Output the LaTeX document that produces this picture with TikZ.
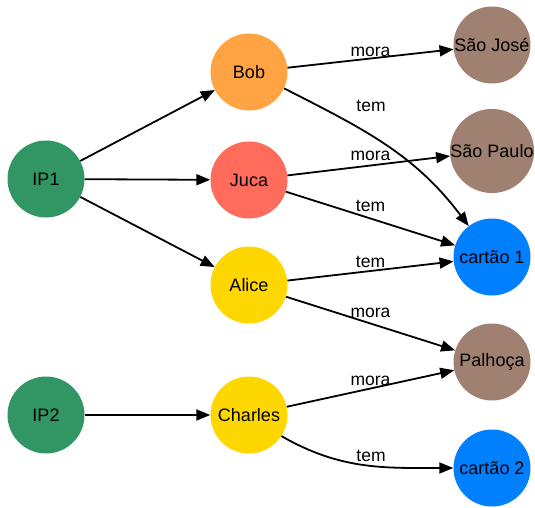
\documentclass[tikz,border=0pt]{standalone}
\usepackage{fontspec}
\setmainfont{Liberation Sans}
\usetikzlibrary{arrows.meta}

\definecolor{ipgreen}{RGB}{50,150,100}
\definecolor{bobcol}{RGB}{255,163,67}
\definecolor{jucacol}{RGB}{255,108,92}
\definecolor{goldcol}{RGB}{255,215,0}
\definecolor{placecol}{RGB}{160,128,112}
\definecolor{cardcol}{RGB}{0,128,255}

\tikzset{
  vertex/.style={circle, minimum size=77pt, inner sep=0pt, draw=none,
                 font=\fontsize{18}{20}\selectfont, text=black},
  rel/.style={line width=1.8pt, -{Triangle[length=14pt,width=11pt]}},
  lbl/.style={anchor=base, inner sep=0pt, font=\fontsize{17.5}{20}\selectfont}
}

\begin{document}
\begin{tikzpicture}[x=1pt,y=1pt]
  \useasboundingbox (0,0) rectangle (535,507);

  % sources
  \node[vertex, fill=ipgreen] (ip1) at (46,328) {IP1};
  \node[vertex, fill=ipgreen] (ip2) at (46,92) {IP2};

  % people
  \node[vertex, fill=bobcol]  (bob)     at (249,435) {Bob};
  \node[vertex, fill=jucacol] (juca)    at (249,327) {Juca};
  \node[vertex, fill=goldcol] (alice)   at (249,222) {Alice};
  \node[vertex, fill=goldcol] (charles) at (249,92)  {Charles};

  % places and cards
  \node[vertex, fill=placecol] (sjose)   at (492,462) {São José};
  \node[vertex, fill=placecol] (spaulo)  at (492,356) {São Paulo};
  \node[vertex, fill=cardcol]  (cartao1) at (492,250) {cartão 1};
  \node[vertex, fill=placecol] (palhoca) at (492,145) {Palhoça};
  \node[vertex, fill=cardcol]  (cartao2) at (492,39)  {cartão 2};

  % connections
  \draw[rel] (ip1) -- (bob);
  \draw[rel] (ip1) -- (juca);
  \draw[rel] (ip1) -- (alice);
  \draw[rel] (ip2) -- (charles);

  \draw[rel] (bob) -- (sjose);
  \draw[rel] (bob.-25) to[out=-27, in=127] (cartao1);
  \draw[rel] (juca) -- (spaulo);
  \draw[rel] (juca) -- (cartao1);
  \draw[rel] (alice) -- (cartao1);
  \draw[rel] (alice) -- (palhoca);
  \draw[rel] (charles) -- (palhoca);
  \draw[rel] (charles.-33) to[out=-30, in=180] (cartao2);

  % relation labels
  \node[lbl] (l1) at (370.5,450) {mora};
  \node[lbl] (l2) at (371,395)   {tem};
  \node[lbl] (l3) at (370.5,347) {mora};
  \node[lbl] (l4) at (370.5,296) {tem};
  \node[lbl] (l5) at (370.5,240) {tem};
  \node[lbl] (l6) at (370.5,190) {mora};
  \node[lbl] (l7) at (370.5,122) {mora};
  \node[lbl] (l8) at (371,46)    {tem};
\end{tikzpicture}
\end{document}
